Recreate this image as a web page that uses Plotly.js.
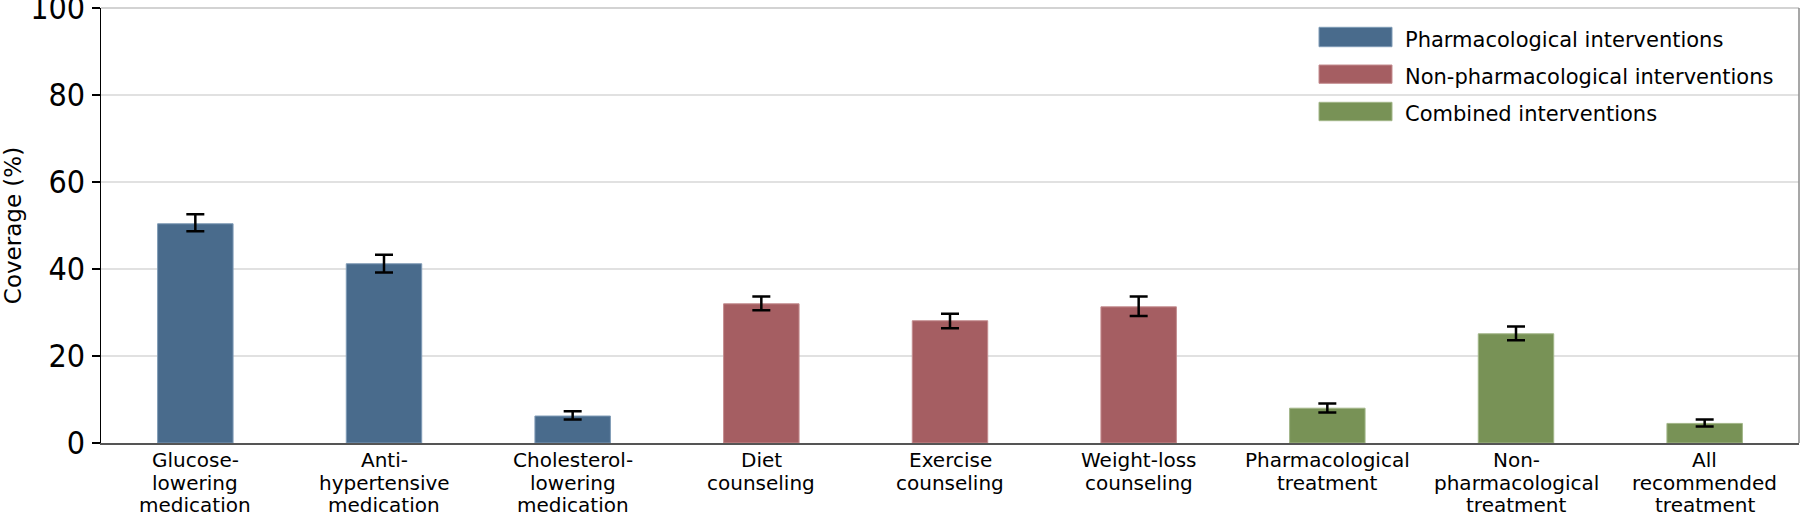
<!DOCTYPE html>
<html>
<head>
<meta charset="utf-8">
<script src="https://cdn.plot.ly/plotly-3.0.1.min.js"></script>
<style>html,body{margin:0;padding:0;background:#fff;}#chart{width:1800px;height:515px;}</style>
</head>
<body>
<div id="chart"></div>
<script>
// ---- data ----
const categories = ["Glucose-lowering medication","Anti-hypertensive medication","Cholesterol-lowering medication",
  "Diet counseling","Exercise counseling","Weight-loss counseling",
  "Pharmacological treatment","Non-pharmacological treatment","All recommended treatment"];
const tickLines = [
  ["Glucose-","lowering","medication"],
  ["Anti-","hypertensive","medication"],
  ["Cholesterol-","lowering","medication"],
  ["Diet","counseling"],
  ["Exercise","counseling"],
  ["Weight-loss","counseling"],
  ["Pharmacological","treatment"],
  ["Non-","pharmacological","treatment"],
  ["All","recommended","treatment"]
];
const groupNames = ["Pharmacological interventions","Non-pharmacological interventions","Combined interventions"];
const groupIndex = [0,0,0,1,1,1,2,2,2];
const coverage = [50.4, 41.2, 6.2, 32.0, 28.1, 31.3, 8.0, 25.1, 4.5];
const ciLower  = [48.7, 39.2, 5.4, 30.5, 26.4, 29.2, 7.0, 23.6, 3.8];
const ciUpper  = [52.6, 43.3, 7.3, 33.7, 29.7, 33.7, 9.1, 26.8, 5.4];
const yTicks = [0,20,40,60,80,100];

// ---- style ----
const colors = ["#496b8c","#a55e62","#789256"];
const edge = ["#7f9bb6","#c48c8f","#a2b688"];
const FONT = "DejaVu Sans";
const TICKFONT = "Liberation Sans Narrow, DejaVu Sans Condensed, DejaVu Sans";

const traces = groupNames.map((name,g)=>{
  const idx = categories.map((c,i)=>i).filter(i=>groupIndex[i]===g);
  return {
    type:"bar", name:name, showlegend:false,
    x: idx.map(i=>categories[i]),
    y: idx.map(i=>coverage[i]),
    marker:{color:colors[g], line:{color:edge[g], width:1}},
    error_y:{type:"data", symmetric:false,
      array: idx.map(i=>ciUpper[i]-coverage[i]),
      arrayminus: idx.map(i=>coverage[i]-ciLower[i]),
      color:"#000", thickness:2.5, width:9},
    hoverinfo:"x+y"
  };
});

const annotations = [];
const lineOffsets = [-17,-40,-62];
tickLines.forEach((lines,i)=>{
  lines.forEach((t,j)=>{
    annotations.push({x:categories[i], y:0, xref:"x", yref:"y", text:t, showarrow:false,
      xanchor:"center", yanchor:"middle", yshift:lineOffsets[j],
      font:{family:FONT, size:20, color:"#000"}});
  });
});

// manual legend
const shapes = [];
const legendY = [[27.3,46.7],[65,83.3],[102.3,120.7]];
const plotTop = 8, plotBot = 443, plotH = plotBot-plotTop;
const plotL = 101, plotW = 1698;
const px = v=>(v-plotL)/plotW;
const py = v=>(plotBot-v)/plotH;
groupNames.forEach((name,g)=>{
  shapes.push({type:"rect", xref:"paper", yref:"paper",
    x0:px(1319), x1:px(1392), y0:py(legendY[g][1]), y1:py(legendY[g][0]),
    fillcolor:colors[g], line:{color:edge[g], width:1}});
  annotations.push({xref:"paper", yref:"paper", x:px(1403), y:py((legendY[g][0]+legendY[g][1])/2+2.5),
    text:name, showarrow:false, xanchor:"left", yanchor:"middle",
    font:{family:FONT, size:21, color:"#000"}});
});
// top and right frame lines
shapes.push({type:"line", xref:"paper", yref:"paper", x0:0, x1:1, y0:1, y1:1, line:{color:"#c4c4c4", width:1.5}});
shapes.push({type:"line", xref:"paper", yref:"paper", x0:1, x1:1, y0:0, y1:1, line:{color:"#8a8a8a", width:1.5}});

const layout = {
  width:1800, height:515,
  margin:{l:101, r:1, t:8, b:72, pad:0},
  paper_bgcolor:"#fff", plot_bgcolor:"#fff",
  barmode:"overlay", bargap:0.6,
  showlegend:false,
  font:{family:FONT, color:"#000"},
  xaxis:{type:"category", categoryorder:"array", categoryarray:categories,
    showticklabels:false, ticks:"", showgrid:false, zeroline:false,
    showline:true, linecolor:"#555", linewidth:1.5, automargin:false},
  yaxis:{range:[0,100], tickvals:yTicks, ticktext:yTicks.map(String),
    ticks:"outside", ticklen:8, tickwidth:1.5, tickcolor:"#000",
    ticklabeloverflow:"allow",
    tickfont:{family:TICKFONT, size:32, color:"#000"},
    showgrid:true, gridcolor:"#e1e1e1", gridwidth:1.5,
    showline:true, linecolor:"#000", linewidth:1.5, zeroline:false,
    automargin:false,
    title:{text:"Coverage (%)", font:{family:FONT, size:23, color:"#000"}, standoff:16}},
  shapes:shapes,
  annotations:annotations
};

Plotly.newPlot("chart", traces, layout, {displayModeBar:false, staticPlot:true});
</script>
</body>
</html>
